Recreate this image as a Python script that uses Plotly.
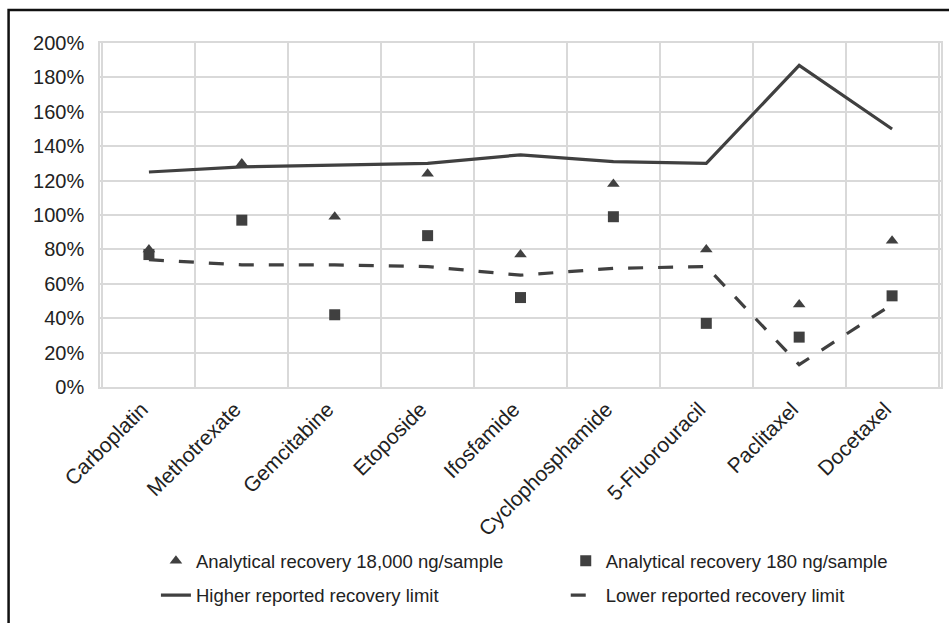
import plotly.graph_objects as go

drugs = ["Carboplatin", "Methotrexate", "Gemcitabine", "Etoposide", "Ifosfamide",
         "Cyclophosphamide", "5-Fluorouracil", "Paclitaxel", "Docetaxel"]
recovery_18000 = [80, 130, 99, 124, 77, 118, 80, 48, 85]
recovery_180 = [77, 97, 42, 88, 52, 99, 37, 29, 53]
higher_limit = [125, 128, 129, 130, 135, 131, 130, 187, 150]
lower_limit = [74, 71, 71, 70, 65, 69, 70, 13, 48]
y_ticks = [0, 20, 40, 60, 80, 100, 120, 140, 160, 180, 200]

dark = "#404040"
text_col = "#222222"
font_family = "Liberation Sans, Arial, sans-serif"

fig = go.Figure()
fig.add_trace(go.Scatter(
    x=drugs, y=higher_limit, mode="lines", name="Higher reported recovery limit",
    line=dict(color=dark, width=3.2), legend="legend3"))
fig.add_trace(go.Scatter(
    x=drugs, y=lower_limit, mode="lines", name="Lower reported recovery limit",
    line=dict(color=dark, width=3.2, dash="15px,15px"), legend="legend4"))
fig.add_trace(go.Scatter(
    x=drugs, y=recovery_18000, mode="markers", name="Analytical recovery 18,000 ng/sample",
    marker=dict(symbol="triangle-up", size=11, color=dark), legend="legend"))
fig.add_trace(go.Scatter(
    x=drugs, y=recovery_180, mode="markers", name="Analytical recovery 180 ng/sample",
    marker=dict(symbol="square", size=11, color=dark), legend="legend2"))

legend_common = dict(
    orientation="h", xanchor="left", yanchor="top",
    font=dict(size=18.5, color=text_col, family=font_family),
    bgcolor="rgba(0,0,0,0)")
col1, col2 = 0.0665, 0.5538
row1, row2 = -0.451, -0.551

fig.update_layout(
    width=949, height=623,
    margin=dict(l=100, r=8, t=43, b=236, autoexpand=False),
    paper_bgcolor="white", plot_bgcolor="white",
    font=dict(family=font_family, color=text_col),
    showlegend=True,
    legend=dict(x=col1, y=row1, **legend_common),
    legend2=dict(x=col2, y=row1, **legend_common),
    legend3=dict(x=col1, y=row2, **legend_common),
    legend4=dict(x=col2, y=row2, **legend_common),
    xaxis=dict(
        type="category", tickson="boundaries", ticks="", tickangle=-45,
        showgrid=True, gridcolor="#d9d9d9", gridwidth=1.5,
        showline=True, linecolor="#d9d9d9", linewidth=1.5, mirror=True,
        tickfont=dict(size=21, color=text_col), zeroline=False,
        ticklabelshift=-7),
    yaxis=dict(
        range=[0, 200], tickvals=y_ticks, ticktext=[f"{v}%" for v in y_ticks],
        showgrid=True, gridcolor="#d9d9d9", gridwidth=1.5,
        showline=True, linecolor="#d9d9d9", linewidth=1.5, mirror=True,
        tickfont=dict(size=20, color=text_col), zeroline=False, ticks="",
        ticklabelstandoff=10),
    shapes=[dict(
        type="rect", xref="paper", yref="paper",
        x0=-0.1087, x1=1.02, y0=-0.7, y1=1.096,
        line=dict(color="#111111", width=2.5), fillcolor="rgba(0,0,0,0)",
        layer="above")],
)

fig.write_html("out.html")
